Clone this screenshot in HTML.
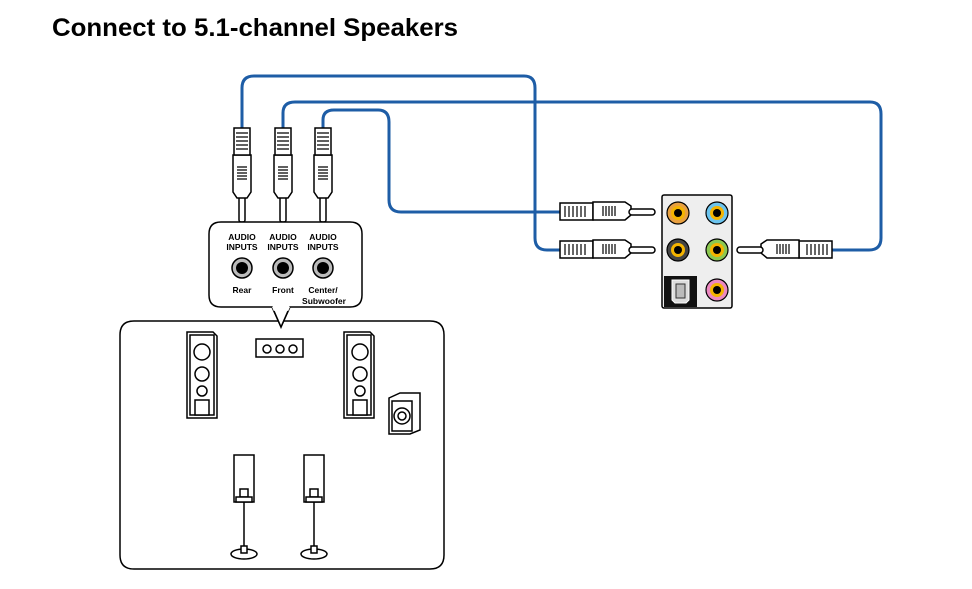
<!DOCTYPE html>
<html><head><meta charset="utf-8"><style>html,body{margin:0;padding:0;background:#fff}svg{display:block}</style></head>
<body>
<svg width="972" height="589" viewBox="0 0 972 589" xmlns="http://www.w3.org/2000/svg" font-family="Liberation Sans, Arial, sans-serif">
<text x="52" y="36" font-size="25" font-weight="bold" textLength="406" lengthAdjust="spacingAndGlyphs">Connect to 5.1-channel Speakers</text>
<g fill="none" stroke="#1e5da6" stroke-width="3">
<path d="M242 130 V88 Q242 76 254 76 H524 Q535 76 535 88 V238 Q535 250 547 250 H562"/>
<path d="M283 130 V113 Q283 102 295 102 H870 Q881 102 881 114 V238 Q881 250 869 250 H832"/>
<path d="M323 130 V120 Q323 110 334 110 H378 Q389 110 389 122 V200 Q389 212 401 212 H562"/>
</g>
<defs>
<g id="vp">
<path d="M-6 222 V198 H-3 V222 Z M3 198 V222 H6" fill="none"/>
<rect x="-3" y="196" width="6" height="26" rx="2" fill="#fff" stroke="#000" stroke-width="1.5"/>
<path d="M-9 155 L-9 192 L-5 198 L5 198 L9 192 L9 155 Z" fill="#fff" stroke="#000" stroke-width="1.5"/>
<rect x="-8" y="128" width="16" height="27" fill="#fff" stroke="#000" stroke-width="1.5"/>
<g stroke="#000" stroke-width="1.2"><path d="M-6 133 H6 M-6 137 H6 M-6 141 H6 M-6 145 H6 M-6 149 H6 M-5 167 H5 M-5 170 H5 M-5 173 H5 M-5 176 H5 M-5 179 H5"/></g>
</g>
<g id="hp">
<rect x="560" y="203" width="33" height="17" fill="#fff" stroke="#000" stroke-width="1.5"/>
<path d="M593 202 H625 L631 206 V215 L625 220 H593 Z" fill="#fff" stroke="#000" stroke-width="1.5"/>
<rect x="629" y="209" width="26" height="6" rx="3" fill="#fff" stroke="#000" stroke-width="1.5"/>
<g stroke="#000" stroke-width="1.2"><path d="M565 206 V217 M569 206 V217 M573 206 V217 M577 206 V217 M581 206 V217 M585 206 V217 M603 206 V216 M606 206 V216 M609 206 V216 M612 206 V216 M615 206 V216"/></g>
</g>
</defs>
<use href="#vp" x="242"/><use href="#vp" x="283"/><use href="#vp" x="323"/>
<use href="#hp"/><use href="#hp" y="38"/>
<use href="#hp" transform="translate(1392,38) scale(-1,1)"/>
<path d="M221 222 H350 Q362 222 362 234 V295 Q362 307 350 307 H290 L281 327 L272 307 H221 Q209 307 209 295 V234 Q209 222 221 222 Z" fill="#fff" stroke="#000" stroke-width="1.5"/>
<g font-size="8.5" font-weight="bold" text-anchor="middle">
<text x="242" y="240">AUDIO</text><text x="242" y="250">INPUTS</text>
<text x="283" y="240">AUDIO</text><text x="283" y="250">INPUTS</text>
<text x="323" y="240">AUDIO</text><text x="323" y="250">INPUTS</text>
<text x="242" y="293">Rear</text><text x="283" y="293">Front</text>
<text x="323" y="293">Center/</text><text x="324" y="304">Subwoofer</text>
</g>
<g stroke="#000" stroke-width="1.5"><circle cx="242" cy="268" r="10" fill="#bbb"/><circle cx="283" cy="268" r="10" fill="#bbb"/><circle cx="323" cy="268" r="10" fill="#bbb"/></g>
<circle cx="242" cy="268" r="6"/><circle cx="283" cy="268" r="6"/><circle cx="323" cy="268" r="6"/>
<path d="M135 321 H290 M272 321 H430 Q444 321 444 335 V555 Q444 569 430 569 H134 Q120 569 120 555 V335 Q120 321 134 321 Z" fill="none" stroke="#000" stroke-width="1.5"/>
<path d="M272 307 L281 327 L290 307" fill="#fff" stroke="none"/>
<path d="M274 311 L281 327 L288 311" fill="none" stroke="#000" stroke-width="1.5"/>
<rect x="662" y="195" width="70" height="113" rx="2" fill="#eee" stroke="#000" stroke-width="1.5"/>
<g stroke="#000" stroke-width="1.2">
<circle cx="678" cy="213" r="11" fill="#e8a040"/><circle cx="717" cy="213" r="11" fill="#6cc4ee"/>
<circle cx="678" cy="250" r="11" fill="#444"/><circle cx="717" cy="250" r="11" fill="#8cc850"/>
<circle cx="717" cy="290" r="11" fill="#ec88c0"/>
</g>
<g fill="#f4b400"><circle cx="678" cy="213" r="7"/><circle cx="717" cy="213" r="7"/><circle cx="678" cy="250" r="7"/><circle cx="717" cy="250" r="7"/><circle cx="717" cy="290" r="7"/></g>
<g><circle cx="678" cy="213" r="4"/><circle cx="717" cy="213" r="4"/><circle cx="678" cy="250" r="4"/><circle cx="717" cy="250" r="4"/><circle cx="717" cy="290" r="4"/></g>
<rect x="664" y="276" width="33" height="31" fill="#111"/>
<path d="M672 280 H689 V300 L686 303 H675 L672 300 Z" fill="#ddd" stroke="#fff"/>
<rect x="676" y="284" width="9" height="14" fill="#bbb" stroke="#333"/>
<g fill="#fff" stroke="#000" stroke-width="1.5">
<path d="M187 332 H213 L217 336 V418 H187 Z"/><rect x="190" y="335" width="24" height="80" fill="none"/>
<circle cx="202" cy="352" r="8"/><circle cx="202" cy="374" r="7"/><circle cx="202" cy="391" r="5"/>
<rect x="195" y="400" width="14" height="15"/>
<path d="M344 332 H370 L374 336 V418 H344 Z"/><rect x="347" y="335" width="24" height="80" fill="none"/>
<circle cx="360" cy="352" r="8"/><circle cx="360" cy="374" r="7"/><circle cx="360" cy="391" r="5"/>
<rect x="353" y="400" width="14" height="15"/>
<rect x="256" y="339" width="47" height="18"/><circle cx="267" cy="349" r="4"/><circle cx="280" cy="349" r="4"/><circle cx="293" cy="349" r="4"/>
<path d="M389 398 L400 393 H420 V430 L410 434 H389 Z"/><rect x="392" y="401" width="20" height="30"/>
<circle cx="402" cy="416" r="8"/><circle cx="402" cy="416" r="4"/>
<rect x="234" y="455" width="20" height="47"/><rect x="304" y="455" width="20" height="47"/>
<rect x="240" y="489" width="8" height="8"/><rect x="310" y="489" width="8" height="8"/>
<rect x="236" y="497" width="16" height="5"/><rect x="306" y="497" width="16" height="5"/>
<path d="M244 502 V550 M314 502 V550"/>
<ellipse cx="244" cy="554" rx="13" ry="5"/><ellipse cx="314" cy="554" rx="13" ry="5"/>
<rect x="241" y="546" width="6" height="7"/><rect x="311" y="546" width="6" height="7"/>
</g>
</svg>
</body></html>
